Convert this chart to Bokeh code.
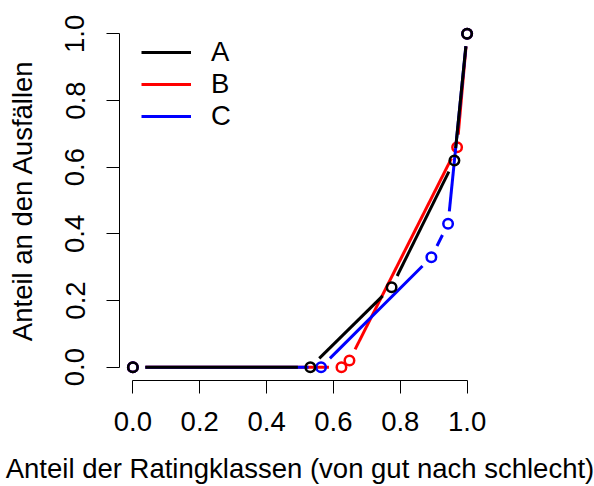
import math

from bokeh.plotting import figure
from bokeh.models import Range1d, FixedTicker, PrintfTickFormatter, Legend, LegendItem
from bokeh.embed import file_html
from bokeh.resources import INLINE

# Cumulative share of rating classes (good -> bad) vs. cumulative share of defaults
series_names = ["A", "B", "C"]
series_colors = ["#000000", "#FF0000", "#0000FF"]

share_classes_a = [0.0, 0.531, 0.774, 0.962, 1.0]
share_defaults_a = [0.0, 0.0, 0.24, 0.62, 1.0]

share_classes_b = [0.0, 0.624, 0.648, 0.970, 1.0]
share_defaults_b = [0.0, 0.0, 0.02, 0.66, 1.0]

share_classes_c = [0.0, 0.563, 0.893, 0.943, 1.0]
share_defaults_c = [0.0, 0.0, 0.33, 0.43, 1.0]

tick_values = [0.0, 0.2, 0.4, 0.6, 0.8, 1.0]

FONT = "Liberation Sans"
FS = "27.5px"

W, H = 594, 486
B_LEFT, B_RIGHT, B_TOP, B_BOTTOM = 119, 114, 20, 106
X0, X1 = -0.04, 1.04
Y0, Y1 = -0.04, 1.04

p = figure(
    width=W, height=H,
    x_range=Range1d(X0, X1), y_range=Range1d(Y0, Y1),
    output_backend="svg", toolbar_location=None,
    min_border_left=B_LEFT, min_border_right=B_RIGHT,
    min_border_top=B_TOP, min_border_bottom=B_BOTTOM,
)
p.outline_line_color = None
p.grid.visible = False
p.background_fill_color = "white"
p.border_fill_color = "white"

# pixels per data unit, used to leave a gap around each point (type "b" style)
px_x = (W - B_LEFT - B_RIGHT) / (X1 - X0)
px_y = (H - B_TOP - B_BOTTOM) / (Y1 - Y0)
GAP = 12.5


def gapped_segments(xs, ys):
    x0s, y0s, x1s, y1s = [], [], [], []
    for i in range(len(xs) - 1):
        dx = (xs[i + 1] - xs[i]) * px_x
        dy = (ys[i + 1] - ys[i]) * px_y
        d = math.hypot(dx, dy)
        if d <= 2 * GAP:
            continue
        f = GAP / d
        ddx = xs[i + 1] - xs[i]
        ddy = ys[i + 1] - ys[i]
        x0s.append(xs[i] + ddx * f)
        y0s.append(ys[i] + ddy * f)
        x1s.append(xs[i + 1] - ddx * f)
        y1s.append(ys[i + 1] - ddy * f)
    return dict(x0=x0s, y0=y0s, x1=x1s, y1=y1s)


data = {
    "A": (share_classes_a, share_defaults_a),
    "B": (share_classes_b, share_defaults_b),
    "C": (share_classes_c, share_defaults_c),
}
colors = dict(zip(series_names, series_colors))

seg_renderers = {}
for name in ["B", "C", "A"]:
    xs, ys = data[name]
    seg = gapped_segments(xs, ys)
    r = p.segment(x0=seg["x0"], y0=seg["y0"], x1=seg["x1"], y1=seg["y1"],
                  line_color=colors[name], line_width=3, line_cap="butt")
    p.scatter(xs, ys, marker="circle", size=9.5, fill_color=None,
              line_color=colors[name], line_width=2.5)
    seg_renderers[name] = r

# axes in base-graphics style: detached line spanning the ticks only
for ax in (p.xaxis[0], p.yaxis[0]):
    ax.ticker = FixedTicker(ticks=tick_values)
    ax.formatter = PrintfTickFormatter(format="%.1f")
    ax.bounds = (0, 1)
    ax.minor_tick_line_color = None
    ax.major_tick_out = 13
    ax.major_tick_in = 0
    ax.axis_line_color = "black"
    ax.major_tick_line_color = "black"
    ax.axis_line_width = 1
    ax.major_label_text_font = FONT
    ax.major_label_text_font_size = FS
    ax.major_label_text_color = "black"
    ax.axis_label_text_font = FONT
    ax.axis_label_text_font_size = FS
    ax.axis_label_text_font_style = "normal"
    ax.axis_label_text_color = "black"

p.xaxis[0].axis_label = "Anteil der Ratingklassen (von gut nach schlecht)"
p.xaxis[0].major_label_standoff = 18
p.xaxis[0].axis_label_standoff = 19
p.yaxis[0].axis_label = "Anteil an den Ausfällen"
p.yaxis[0].major_label_orientation = "vertical"
p.yaxis[0].major_label_standoff = 22
p.yaxis[0].axis_label_standoff = 25

legend = Legend(
    items=[LegendItem(label=n, renderers=[seg_renderers[n]]) for n in series_names],
    location=(22, 248),
    margin=0, padding=0,
    border_line_color=None, background_fill_alpha=0,
    label_text_font=FONT, label_text_font_size=FS, label_text_color="black",
    glyph_width=50, glyph_height=20, label_height=20,
    spacing=0, label_standoff=20,
)
p.add_layout(legend)

open("out.html", "w").write(file_html(p, INLINE))
